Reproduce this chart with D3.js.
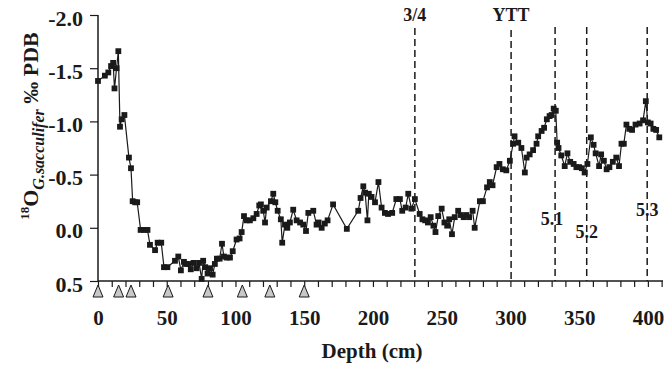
<!DOCTYPE html>
<html>
<head>
<meta charset="utf-8">
<script src="https://cdn.jsdelivr.net/npm/d3@7"></script>
<style>
  html, body { margin: 0; padding: 0; background: #fff; }
  svg { display: block; }
  text { font-family: "Liberation Serif", "Times New Roman", serif; font-weight: bold; fill: #1a1a1a; }
</style>
</head>
<body>
<svg id="chart" width="670" height="370"></svg>
<script>
// ---- data ----
const depthCm = [0,5,7.5,9.5,11,12,13.5,14.8,16,17.2,19.2,22.5,24,25.2,27,28.5,31,33.5,36,37.8,41.5,43.4,46,48,50.5,56,58.4,60.3,62.5,64,65.7,67.5,69.5,71.7,73.5,75.4,76.5,78,79.7,81.5,83.4,85,86.5,88.5,90.2,91.6,93.6,96,98,100.8,103,104.5,106.2,108.1,110.5,113,115.4,117.3,118.5,120.2,121.5,122.7,125.8,127.5,129,130.7,133,134,136,137.7,139.6,142,144.5,147,149.3,151.3,153,156.6,159,160.5,162.7,165,167,171,181,189.3,191,193,194.3,196,197,199,201.5,204,206.3,208.7,211,214,217,219.6,221.3,223.8,225.7,228,230.5,234,236,238,240,242,244,245.5,247.5,250,252,254,255.5,257.5,259.5,262,264,266,268,270,272.5,274,277.8,280,283,285,287,290,292,294.5,297,299.6,302,303,305.7,308,310.5,311.8,314,316.5,319,320.2,322.7,324.5,326.5,328.5,330,331.5,333,334,335,337,339.5,341.5,343.5,346,348,350,352,354,356,358.5,360.5,362,364.5,366,368,370,372,374.5,377,379,380.8,382.5,384.4,386.5,388.5,391,394,396.5,398.5,400,402,404,406,408.3];
const d18O = [-1.38,-1.43,-1.46,-1.52,-1.55,-1.31,-1.50,-1.66,-0.95,-1.02,-1.06,-0.66,-0.56,-0.25,-0.24,-0.24,0.02,0.02,0.02,0.16,0.21,0.14,0.14,0.37,0.37,0.31,0.27,0.40,0.32,0.34,0.34,0.39,0.33,0.38,0.33,0.48,0.31,0.37,0.43,0.38,0.44,0.34,0.29,0.29,0.15,0.27,0.28,0.28,0.22,0.11,0.10,0.04,-0.11,-0.07,-0.07,-0.09,-0.13,-0.21,-0.22,-0.16,-0.05,-0.19,-0.25,-0.32,-0.24,-0.16,-0.08,0.14,-0.03,0.00,-0.05,-0.17,-0.07,-0.05,-0.03,0.03,-0.14,-0.16,-0.03,-0.05,0.00,-0.04,-0.07,-0.22,0.01,-0.16,-0.28,-0.39,-0.33,-0.07,-0.32,-0.29,-0.24,-0.43,-0.19,-0.14,-0.13,-0.14,-0.27,-0.27,-0.16,-0.19,-0.32,-0.18,-0.27,-0.13,-0.08,-0.07,-0.05,-0.10,-0.02,0.04,-0.11,-0.18,-0.05,-0.02,-0.08,0.06,-0.10,-0.16,-0.12,-0.10,-0.12,-0.10,-0.16,0.00,-0.25,-0.25,-0.38,-0.43,-0.40,-0.57,-0.60,-0.55,-0.54,-0.63,-0.79,-0.86,-0.80,-0.75,-0.52,-0.66,-0.69,-0.73,-0.79,-0.86,-0.91,-0.94,-1.02,-1.05,-1.06,-1.12,-1.10,-0.80,-0.75,-0.68,-0.58,-0.70,-0.62,-0.60,-0.57,-0.57,-0.56,-0.52,-0.60,-0.85,-0.78,-0.70,-0.58,-0.69,-0.63,-0.55,-0.57,-0.62,-0.66,-0.58,-0.79,-0.79,-0.97,-0.93,-0.92,-0.97,-0.98,-1.01,-1.19,-0.99,-0.98,-0.93,-0.92,-0.85];
const datingDepths = [0,15,24,51,80,105,125,150];
const boundaryDepths = [230.5,300.5,332.5,355.5,399.5];
const boundaryLabels = ["3/4","YTT","5.1","5.2","5.3"];
const xTickValues = [0,50,100,150,200,250,300,350,400];
const yTickValues = [-2.0,-1.5,-1.0,-0.5,0.0,0.5];
const yTickLabels = ["-2.0","-1.5","-1.0","-0.5","0.0","0.5"];

// ---- drawing ----
const svg = d3.select("#chart");
const x = d3.scaleLinear().domain([0, 411]).range([98, 663]);
const y = d3.scaleLinear().domain([-2.0, 0.5]).range([15, 281]);
const ink = "#1a1a1a";

// boundary dashed lines
const labelY = {"3/4": 21, "YTT": 21, "5.1": 225, "5.2": 238, "5.3": 216};
const lineTop = {"3/4": 28, "YTT": 30, "5.1": 27, "5.2": 27, "5.3": 27};
boundaryDepths.forEach((d, i) => {
  const lab = boundaryLabels[i];
  svg.append("line")
    .attr("x1", x(d)).attr("x2", x(d))
    .attr("y1", lineTop[lab]).attr("y2", y(0.5))
    .attr("stroke", ink).attr("stroke-width", 1.5)
    .attr("stroke-dasharray", "7,4");
  svg.append("text")
    .attr("x", x(d) + (lab === "5.1" ? -3 : 0))
    .attr("y", labelY[lab])
    .attr("text-anchor", "middle")
    .attr("font-size", 18)
    .text(lab);
});

// x axis
const xAxis = d3.axisBottom(x)
  .tickValues(d3.range(0, 411, 10))
  .tickSize(6)
  .tickFormat(d => xTickValues.includes(d) ? d : "");
const gx = svg.append("g").attr("transform", `translate(0,${y(0.5)})`).call(xAxis);
gx.select(".domain").attr("stroke", ink).attr("stroke-width", 1.5).attr("d", `M${x(0)},0H${x(411)}`);
gx.selectAll(".tick line").attr("stroke", ink).attr("stroke-width", 1.2);
gx.selectAll(".tick text").attr("font-size", 21).attr("y", 0).attr("dy", 44).attr("fill", ink)
  .style("font-family", '"Liberation Serif", serif').style("font-weight", "bold");

// y axis
const yAxis = d3.axisLeft(y).tickValues(yTickValues).tickSize(8)
  .tickFormat((d, i) => yTickLabels[i]);
const gy = svg.append("g").attr("transform", `translate(${x(0)},0)`).call(yAxis);
gy.select(".domain").attr("stroke", ink).attr("stroke-width", 1.5).attr("d", `M0,${y(-2)}V${y(0.5)}`);
gy.selectAll(".tick line").attr("stroke", ink).attr("stroke-width", 1.2);
gy.selectAll(".tick text").attr("font-size", 22).attr("x", -15).attr("dy", 10).attr("fill", ink)
  .style("font-family", '"Liberation Serif", serif').style("font-weight", "bold");

// dating triangles
svg.append("g").selectAll("path").data(datingDepths).join("path")
  .attr("d", d => { const cx = x(d), t = y(0.5) + 4; return `M${cx},${t}L${cx+5},${t+12}L${cx-5},${t+12}Z`; })
  .attr("fill", "#c8c8c8").attr("stroke", ink).attr("stroke-width", 1);

// data line
const pts = depthCm.map((d, i) => [d, d18O[i]]);
svg.append("path").datum(pts)
  .attr("fill", "none").attr("stroke", ink).attr("stroke-width", 1.2)
  .attr("d", d3.line().x(p => x(p[0])).y(p => y(p[1])));
svg.append("g").selectAll("rect").data(pts).join("rect")
  .attr("x", p => x(p[0]) - 2.9).attr("y", p => y(p[1]) - 2.9)
  .attr("width", 5.8).attr("height", 5.8).attr("fill", ink);

// axis titles
svg.append("text").attr("x", 372).attr("y", 358).attr("text-anchor", "middle")
  .attr("font-size", 21).text("Depth (cm)");

const yl = svg.append("text").attr("transform", "translate(38,126) rotate(-90)")
  .attr("text-anchor", "middle").attr("font-size", 22);
yl.append("tspan").attr("font-size", 13).attr("dy", -9).text("18");
yl.append("tspan").attr("dy", 9).text("O");
yl.append("tspan").attr("font-size", 16).attr("font-style", "italic").attr("dy", 6).text("G.sacculifer");
yl.append("tspan").attr("dy", -6).text(" ‰ PDB");
</script>
</body>
</html>
